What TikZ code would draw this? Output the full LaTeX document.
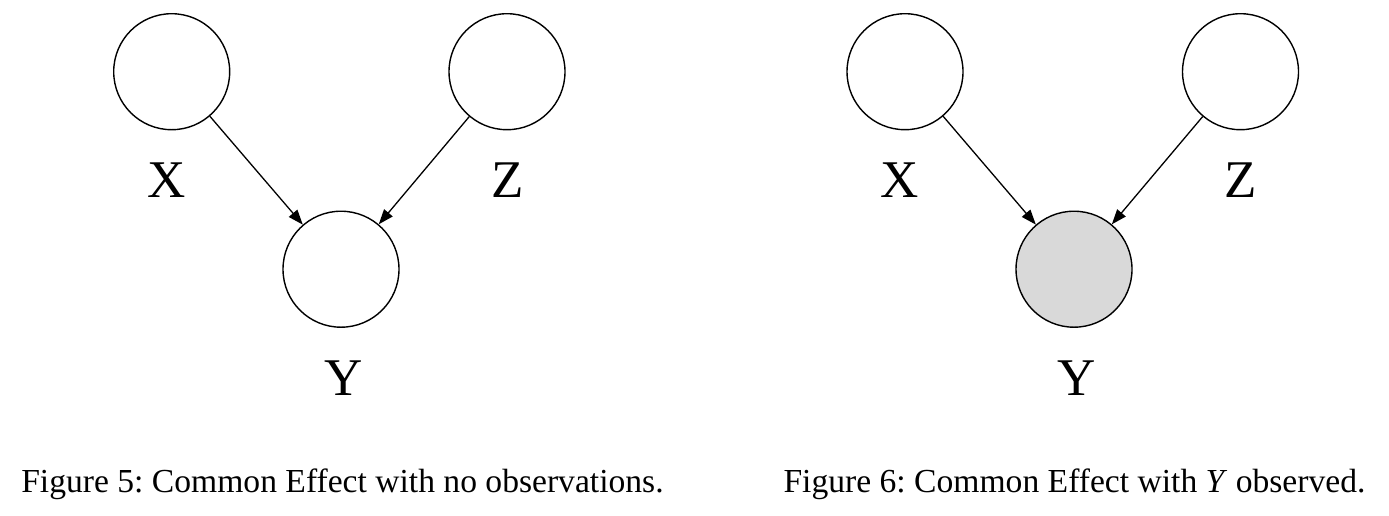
\documentclass[tikz,border=0pt]{standalone}
\usepackage{fontspec}
\setmainfont{Liberation Serif}
\usetikzlibrary{arrows.meta}
\definecolor{obsgray}{RGB}{217,217,217}
\frenchspacing
\begin{document}
\begin{tikzpicture}[x=1pt,y=-1pt,
  var/.style={circle,draw=black,line width=1.4pt,minimum size=116pt,inner sep=0pt,fill=white},
  obs/.style={var,fill=obsgray},
  lab/.style={anchor=base,inner sep=0pt,font=\fontsize{53}{60}\selectfont},
  figcaption/.style={anchor=base,inner sep=0pt,font=\fontsize{33.6}{38}\selectfont},
  edge/.style={line width=1.3pt,-{Triangle[length=15pt,width=11pt]}}]
\useasboundingbox (0,0) rectangle (1389,515);
% left figure
\node[var] (x1) at (171.7,71.7) {};
\node[var] (z1) at (507,71.7) {};
\node[var] (y1) at (341,269.2) {};
\node[lab] (lx1) at (166.7,197) {X};
\node[lab] (lz1) at (508,197) {Z};
\node[lab] (ly1) at (343.3,395.5) {Y};
\draw[edge] (x1) -- (y1);
\draw[edge] (z1) -- (y1);
\node[figcaption] (c1) at (342.5,492.5) {Figure 5: Common Effect with no observations.};
% right figure
\node[var] (x2) at (905,71.7) {};
\node[var] (z2) at (1240.5,71.7) {};
\node[obs] (y2) at (1074,269.2) {};
\node[lab] (lx2) at (900,197) {X};
\node[lab] (lz2) at (1240.5,197) {Z};
\node[lab] (ly2) at (1076.3,395.5) {Y};
\draw[edge] (x2) -- (y2);
\draw[edge] (z2) -- (y2);
\node[figcaption] (c2) at (1074.5,492.5) {Figure 6: Common Effect with \textit{Y} observed.};
\end{tikzpicture}
\end{document}
